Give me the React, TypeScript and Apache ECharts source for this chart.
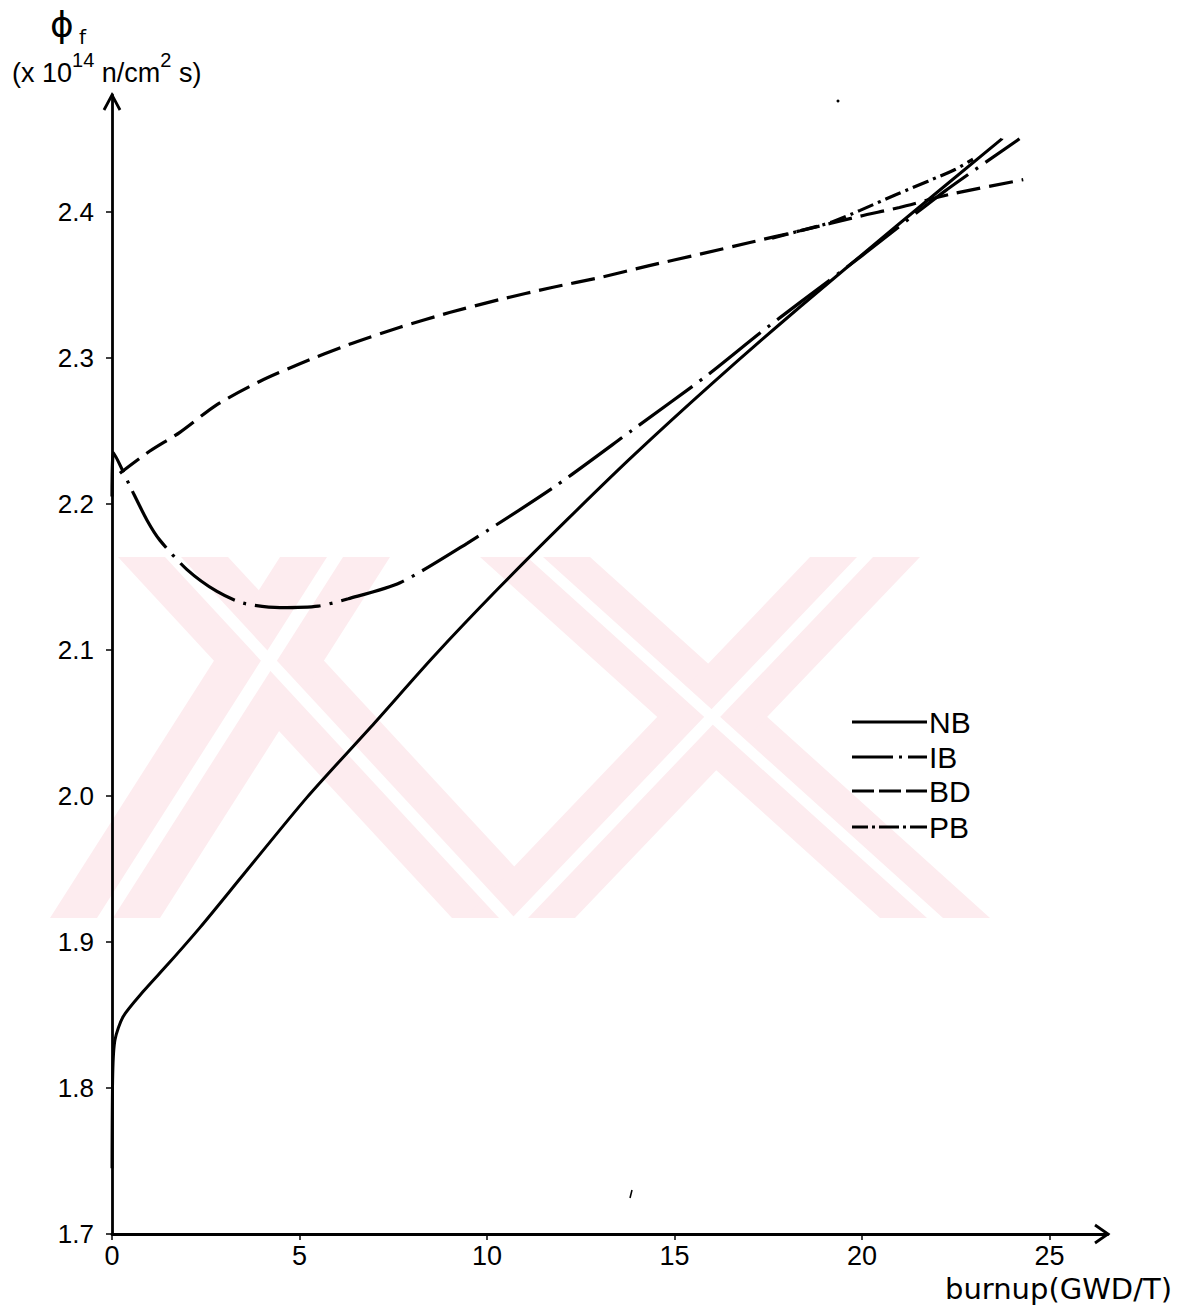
import { useEffect, useRef } from "react";
import * as echarts from "echarts";

// Axis ticks
const X_TICKS = [0, 5, 10, 15, 20, 25];
const Y_TICKS = [1.7, 1.8, 1.9, 2.0, 2.1, 2.2, 2.3, 2.4];
const SERIES_NAMES = ["NB", "IB", "BD", "PB"];

// Curves: [burnup (GWD/T), phi_f (x10^14 n/cm^2 s)]
const NB: [number, number][] = [
  [0, 1.745], [0.02, 1.81], [0.08, 1.833], [0.3, 1.849], [0.83, 1.866],
  [1.5, 1.885], [2.35, 1.91], [3.5, 1.946], [5.2, 1.999], [7.0, 2.05],
  [8.56, 2.095], [10.3, 2.142], [12.13, 2.189], [13.9, 2.233], [16.03, 2.283],
  [18.35, 2.335], [21.0, 2.392], [23.73, 2.45],
];
const IB: [number, number][] = [
  [0, 2.205], [0.04, 2.235], [0.5, 2.211], [0.93, 2.189], [1.28, 2.175],
  [2.0, 2.155], [2.8, 2.14], [3.5, 2.132], [4.48, 2.129], [5.5, 2.13],
  [6.3, 2.135], [7.68, 2.146], [9.47, 2.173], [11.76, 2.211], [13.9, 2.251],
  [15.87, 2.288], [17.28, 2.317], [18.35, 2.338], [20.0, 2.37], [22.2, 2.414],
  [24.2, 2.45],
];
const BD: [number, number][] = [
  [0.21, 2.221], [1.0, 2.236], [1.81, 2.249], [2.8, 2.268], [3.95, 2.284],
  [5.01, 2.296], [6.3, 2.309], [7.68, 2.321], [9.0, 2.331], [10.35, 2.34],
  [11.7, 2.348], [13.01, 2.355], [14.3, 2.363], [15.68, 2.371], [17.01, 2.379],
  [18.35, 2.387], [19.95, 2.397], [21.0, 2.403], [22.35, 2.412], [24.3, 2.422],
];
const PB: [number, number][] = [
  [17.6, 2.382], [18.35, 2.387], [19.2, 2.393], [19.95, 2.401], [20.93, 2.412],
  [21.76, 2.421], [22.48, 2.429], [22.96, 2.436],
];

const FONT = '"Liberation Sans", "DejaVu Sans", sans-serif';
const INK = "#000";

const DASH: Record<string, any> = {
  NB: "solid",
  IB: [66, 9, 3, 9],
  BD: [24, 9],
  PB: [17, 5, 3, 5],
};
const LEGEND_DASH: Record<string, number[] | null> = {
  NB: null,
  IB: [41, 6, 3, 6, 19],
  BD: [22, 5],
  PB: [16, 4, 3, 4, 20, 4, 3, 4, 17],
};

function band(x1: number, x2: number, x3: number, x4: number, y1: number, y2: number) {
  return [[x1, y1], [x2, y1], [x4, y2], [x3, y2]];
}

export default function App() {
  const ref = useRef<HTMLDivElement>(null);

  useEffect(() => {
    if (!ref.current) return;
    const chart = echarts.init(ref.current, undefined, { renderer: "svg" });

    // faint watermark of the scanned page
    const wmTop = 557;
    const wmBot = 918;
    const pink = "#fdecef";
    const arms: [number, number, number, number][] = [
      [118, 228, 452, 562],
      [280, 390, 50, 160],
      [480, 590, 880, 990],
      [810, 920, 465, 575],
    ];
    const watermark: any[] = [];
    arms.forEach(([a, b, c, d]) => {
      watermark.push({
        type: "polygon",
        z: -10,
        silent: true,
        shape: { points: band(a, b, c, d, wmTop, wmBot) },
        style: { fill: pink },
      });
    });
    arms.forEach(([a, b, c, d]) => {
      const mt = (a + b) / 2;
      const mb = (c + d) / 2;
      watermark.push({
        type: "polygon",
        z: -9,
        silent: true,
        shape: { points: band(mt - 8, mt + 8, mb - 8, mb + 8, wmTop, wmBot) },
        style: { fill: "#fff" },
      });
    });

    // legend drawn as in the scan
    const legendRows = [722, 757, 791, 827];
    const legend: any[] = [];
    SERIES_NAMES.forEach((name, i) => {
      const y = legendRows[i];
      const dash = LEGEND_DASH[name];
      legend.push({
        type: "line",
        z: 5,
        shape: { x1: 852, y1: y, x2: 927, y2: y },
        style: { stroke: INK, lineWidth: 3.2, lineDash: dash || undefined },
      });
      legend.push({
        type: "text",
        z: 5,
        style: {
          text: name,
          x: 929,
          y: y,
          verticalAlign: "middle",
          font: `30px ${FONT}`,
          fill: INK,
        },
      });
    });

    const lineSeries = (name: string, data: [number, number][], width: number) => ({
      name,
      type: "line",
      data,
      symbol: "none",
      smooth: 0.25,
      z: 3,
      lineStyle: { color: INK, width, type: DASH[name], cap: "butt" },
      itemStyle: { color: INK },
    });

    chart.setOption({
      animation: false,
      backgroundColor: "#fff",
      grid: { left: 112, right: 70, top: 95, bottom: 75 },
      xAxis: {
        type: "value",
        min: 0,
        max: 26.56,
        axisLine: { show: true, lineStyle: { color: INK, width: 2.8 } },
        axisTick: { show: true, customValues: X_TICKS, length: 6, lineStyle: { color: INK, width: 1.5 } },
        axisLabel: {
          customValues: X_TICKS,
          margin: 8,
          fontSize: 27,
          fontFamily: FONT,
          color: INK,
        },
        splitLine: { show: false },
      },
      yAxis: {
        type: "value",
        min: 1.7,
        max: 2.48,
        axisLine: { show: true, lineStyle: { color: INK, width: 2.8 } },
        axisTick: { show: true, customValues: Y_TICKS, length: 6, lineStyle: { color: INK, width: 1.5 } },
        axisLabel: {
          customValues: Y_TICKS,
          formatter: (v: number) => v.toFixed(1),
          margin: 18,
          fontSize: 26,
          fontFamily: FONT,
          color: INK,
        },
        splitLine: { show: false },
      },
      graphic: [
        ...watermark,
        ...legend,
        // axis arrows
        {
          type: "polyline",
          z: 5,
          shape: { points: [[104, 110], [112, 95], [120, 110]] },
          style: { stroke: INK, lineWidth: 2.8, fill: "none" },
        },
        {
          type: "polyline",
          z: 5,
          shape: { points: [[1095, 1225], [1108, 1234], [1095, 1243]] },
          style: { stroke: INK, lineWidth: 2.8, fill: "none" },
        },
        // y-axis title
        {
          type: "text",
          z: 5,
          style: { text: "ϕ", x: 50, y: 6, font: '36px "DejaVu Sans", sans-serif', fill: INK, verticalAlign: "top" },
        },
        {
          type: "text",
          z: 5,
          style: { text: "f", x: 79, y: 27, font: '20px "DejaVu Sans", sans-serif', fill: INK, verticalAlign: "top" },
        },
        {
          type: "text",
          z: 5,
          style: {
            text: "{n|(x 10}{s|14}{n| n/cm}{s|2}{n| s)}",
            x: 12,
            y: 50,
            verticalAlign: "top",
            fill: INK,
            rich: {
              n: { fontSize: 27, fontFamily: FONT, lineHeight: 36, verticalAlign: "bottom", fill: INK },
              s: { fontSize: 20, fontFamily: FONT, lineHeight: 36, verticalAlign: "top", fill: INK },
            },
          },
        },
        // x-axis title
        {
          type: "text",
          z: 5,
          style: {
            text: "burnup(GWD/T)",
            x: 1172,
            y: 1274,
            align: "right",
            verticalAlign: "top",
            font: '29px "DejaVu Sans", sans-serif',
            fill: INK,
          },
        },
        // small specks present on the scan
        { type: "circle", z: 5, shape: { cx: 838, cy: 101, r: 1.5 }, style: { fill: INK } },
        { type: "line", z: 5, shape: { x1: 632, y1: 1190, x2: 630, y2: 1198 }, style: { stroke: INK, lineWidth: 1.5 } },
      ],
      series: [
        lineSeries("NB", NB, 3),
        lineSeries("IB", IB, 3.2),
        lineSeries("BD", BD, 3.2),
        lineSeries("PB", PB, 3.2),
      ],
    });

    return () => chart.dispose();
  }, []);

  return (
    <div
      ref={ref}
      style={{ position: "fixed", left: 0, top: 0, width: 1178, height: 1309, background: "#fff" }}
    />
  );
}
